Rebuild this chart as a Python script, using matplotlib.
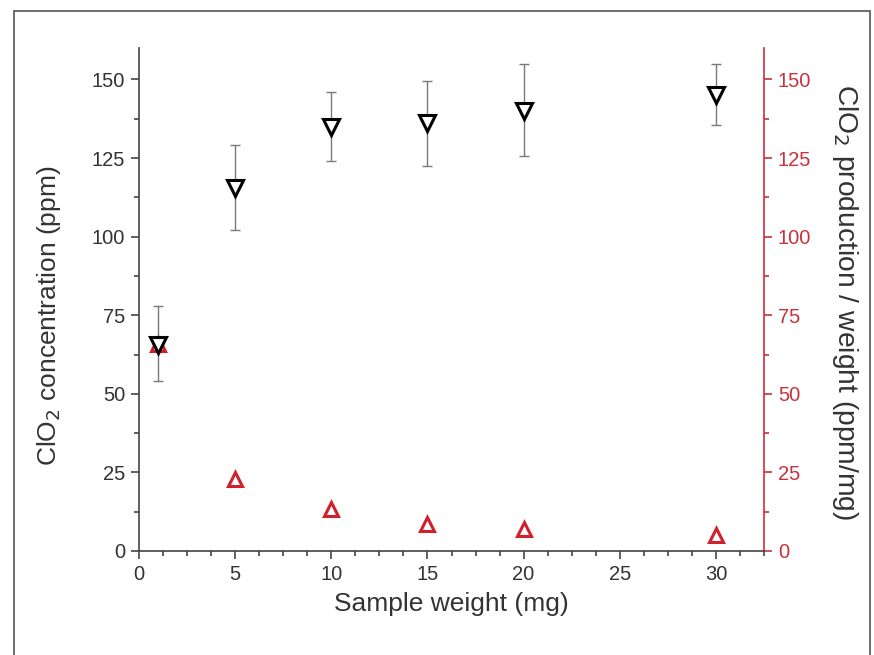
import matplotlib
matplotlib.use("Agg")
import matplotlib.pyplot as plt
from matplotlib.patches import Rectangle
from matplotlib.ticker import MultipleLocator

plt.rcParams['font.family'] = ['Liberation Sans', 'DejaVu Sans']

weight = [1, 5, 10, 15, 20, 30]
concentration = [65.5, 115.5, 135, 136, 140, 145]
conc_err_low = [54, 102, 124, 122.5, 125.5, 135.5]
conc_err_high = [78, 129, 146, 149.5, 155, 155]
production_per_weight = [66, 23, 13.5, 8.5, 7, 5]

red = '#d0202a'
axis_red = '#c8323c'
dark = '#333333'

fig = plt.figure(figsize=(8.74, 6.55), dpi=100)
fig.patches.append(Rectangle((14/874, -0.1), (870-14)/874, (655-11)/655 + 0.1,
                             transform=fig.transFigure, fill=False,
                             edgecolor='#555555', linewidth=1.2, zorder=-1))

ax = fig.add_axes([139/874, 1-551/655, (764-139)/874, (551-48)/655])
ax2 = ax.twinx()

yerr = [[c - lo for c, lo in zip(concentration, conc_err_low)],
        [hi - c for c, hi in zip(concentration, conc_err_high)]]
ax.errorbar(weight, concentration, yerr=yerr, fmt='none', ecolor='#7a7a7a',
            elinewidth=1.0, capsize=3.5, capthick=1.0, zorder=2)
ax2.plot(weight, production_per_weight, linestyle='none', marker='^', ms=10,
         mfc='white', mec=red, mew=2.2, zorder=3)
ax.plot(weight, concentration, linestyle='none', marker='v', ms=11,
        mfc='white', mec='black', mew=2.2, zorder=4)
ax.set_zorder(ax2.get_zorder() + 1)
ax.patch.set_visible(False)

ax.set_xlim(0, 32.5)
ax.set_ylim(0, 160)
ax2.set_ylim(0, 160)
ax.xaxis.set_major_locator(MultipleLocator(5))
ax.xaxis.set_minor_locator(MultipleLocator(1.25))
for a in (ax, ax2):
    a.yaxis.set_major_locator(MultipleLocator(25))
    a.yaxis.set_minor_locator(MultipleLocator(12.5))

for s in ['top', 'right']:
    ax.spines[s].set_visible(False)
for s in ['top', 'left', 'bottom']:
    ax2.spines[s].set_visible(False)
ax.spines['left'].set_color('#444444')
ax.spines['bottom'].set_color('#444444')
ax2.spines['right'].set_color(axis_red)
for s in ax.spines.values():
    s.set_linewidth(1.2)
ax2.spines['right'].set_linewidth(1.2)

ax.tick_params(which='major', direction='out', length=6, width=1.2,
               color='#444444', labelsize=14.5, labelcolor=dark, pad=4)
ax.tick_params(which='minor', direction='out', length=3.5, width=1.2, color='#444444')
ax2.tick_params(which='major', direction='out', length=6, width=1.2,
                color=axis_red, labelsize=14.5, labelcolor=axis_red, pad=4)
ax2.tick_params(which='minor', direction='out', length=3.5, width=1.2, color=axis_red)

ax.set_xlabel('Sample weight (mg)', fontsize=19, color=dark, labelpad=6)
ax.set_ylabel('ClO$_2$ concentration (ppm)', fontsize=19, color=dark)
ax.yaxis.set_label_coords(-0.122, 0.468)
ax2.set_ylabel('ClO$_2$ production / weight (ppm/mg)', fontsize=20.3, color=dark,
               rotation=270, va='center')
ax2.yaxis.set_label_coords(1.13, 0.495)

fig.savefig('out.png', dpi=100, facecolor='white')
